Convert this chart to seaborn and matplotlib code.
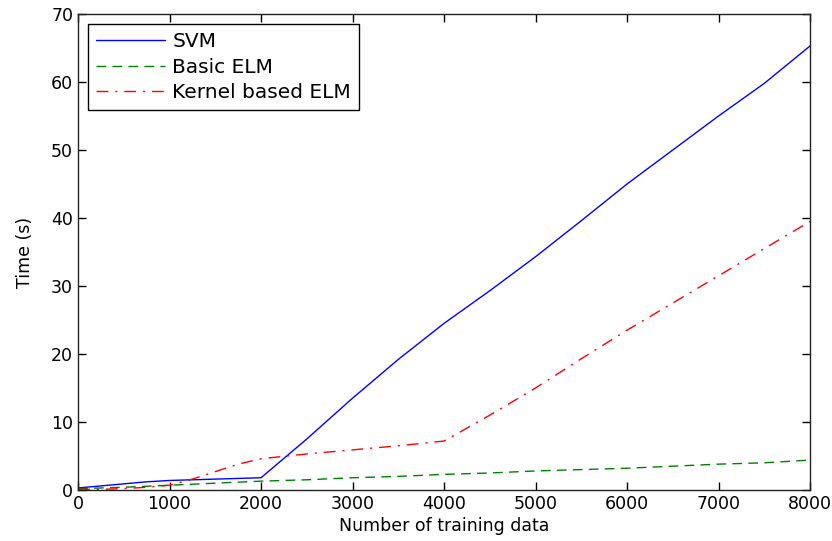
import numpy as np
import pandas as pd
import matplotlib
matplotlib.use('Agg')
import matplotlib.pyplot as plt
import seaborn as sns

# Datos
n_svm = [0, 250, 500, 750, 1000, 1250, 1500, 1750, 2000, 2500, 3000, 3500, 4000,
         4500, 5000, 5500, 6000, 6500, 7000, 7500, 8000]
t_svm = [0.3, 0.6, 0.9, 1.2, 1.4, 1.5, 1.6, 1.7, 1.8, 7.5, 13.5, 19.2, 24.5,
         29.3, 34.3, 39.6, 45.0, 50.0, 55.0, 59.8, 65.3]

n_elm = [0, 500, 1000, 1500, 2000, 2500, 3000, 3500, 4000, 4500, 5000,
         5500, 6000, 6500, 7000, 7500, 8000]
t_elm = [0.2, 0.4, 0.7, 1.0, 1.3, 1.5, 1.8, 2.0, 2.3, 2.5, 2.8,
         3.0, 3.2, 3.5, 3.8, 4.0, 4.4]

n_kelm = [0, 250, 500, 750, 1000, 1250, 1500, 1750, 2000, 2500, 3000, 3500, 4000,
          4500, 5000, 5500, 6000, 6500, 7000, 7500, 8000]
t_kelm = [0.1, 0.1, 0.2, 0.4, 0.7, 1.6, 2.7, 3.8, 4.6, 5.3, 5.9, 6.5, 7.2,
          11.0, 15.0, 19.3, 23.5, 27.5, 31.5, 35.5, 39.5]

series = ['SVM', 'Basic ELM', 'Kernel based ELM']
colores = ['#0000ff', '#008000', '#ff0000']
estilos = ['-', (0, (7, 4.5)), (0, (8.5, 5, 1.5, 5))]

sns.set_style('ticks')
plt.rcParams['font.family'] = ['DejaVu Sans']
plt.rcParams['text.color'] = 'black'
plt.rcParams['axes.labelcolor'] = 'black'

fig = plt.figure(figsize=(8.32, 5.41), dpi=100)
ax = fig.add_axes([0.0938, 0.0943, 0.8798, 0.8798])

datos = [(n_svm, t_svm), (n_elm, t_elm), (n_kelm, t_kelm)]
for (x, y), nombre, c, ls in zip(datos, series, colores, estilos):
    sns.lineplot(x=x, y=y, ax=ax, color=c, linewidth=1.0, label=nombre)
    ax.lines[-1].set_linestyle(ls)

ax.set_xlim(0, 8000)
ax.set_ylim(0, 70)
ax.set_xticks(range(0, 8001, 1000))
ax.set_yticks(range(0, 71, 10))
ax.set_xlabel('Number of training data', fontsize=12.5, labelpad=3, color='black')
ax.set_ylabel('Time (s)', fontsize=12.5, labelpad=12, color='black')
ax.tick_params(direction='in', top=True, right=True, length=6,
               labelsize=12.5, colors='black', width=1)
for s in ax.spines.values():
    s.set_visible(True)
    s.set_color('#222222')
    s.set_linewidth(1)

leg = ax.legend(loc='upper left', fontsize=14.5, frameon=True, fancybox=False,
                handlelength=3.4, borderaxespad=0.5, labelspacing=0.33,
                handletextpad=0.38, borderpad=0.4)
leg.get_frame().set_edgecolor('black')
leg.get_frame().set_linewidth(1)
leg.get_frame().set_alpha(1)
for t in leg.get_texts():
    t.set_color('black')

plt.savefig('out.png', dpi=100)
plt.close()
